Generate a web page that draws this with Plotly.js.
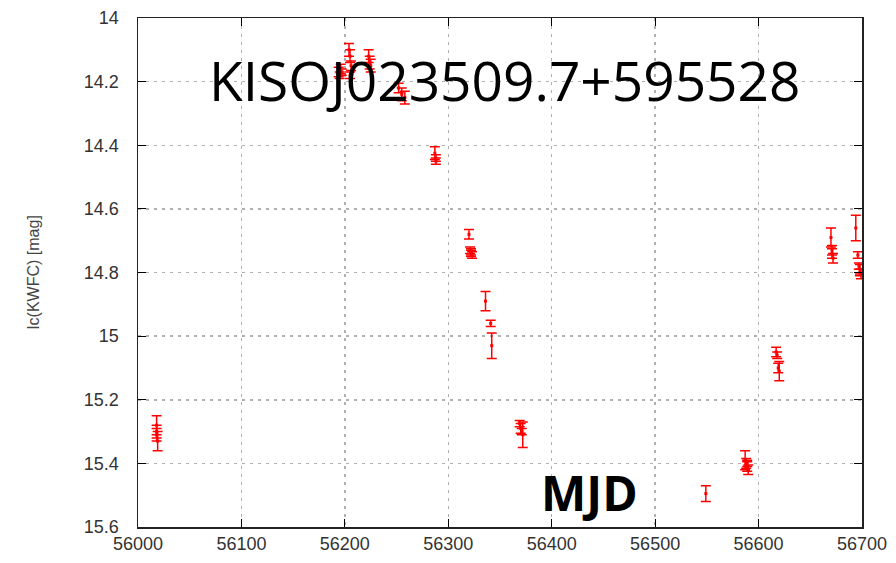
<!DOCTYPE html>
<html>
<head>
<meta charset="utf-8">
<script src="https://cdn.plot.ly/plotly-3.0.1.min.js"></script>
<style>html,body{margin:0;padding:0;background:#fff;}#chart{width:896px;height:563px;}</style>
</head>
<body>
<div id="chart"></div>
<script>
const mjd = [
  56018, 56018, 56018, 56019,
  56194, 56195, 56196, 56197,
  56204, 56205, 56206, 56205,
  56223, 56224, 56225,
  56252, 56255, 56258,
  56287, 56288, 56288,
  56320, 56321, 56322, 56323, 56322,
  56336, 56341, 56342,
  56369, 56370, 56371, 56372,
  56549,
  56587, 56588, 56589, 56590, 56589,
  56617, 56618, 56619, 56620,
  56670, 56671, 56671, 56672,
  56694, 56696, 56697, 56698, 56698, 56699
];
const mag = [
  15.28, 15.30, 15.31, 15.33,
  14.17, 14.18, 14.16, 14.17,
  14.10, 14.12, 14.15, 14.18,
  14.12, 14.14, 14.15,
  14.22, 14.24, 14.25,
  14.425, 14.44, 14.45,
  14.68, 14.73, 14.74, 14.745, 14.735,
  14.89, 14.96, 15.03,
  15.275, 15.29, 15.30, 15.31,
  15.495,
  15.39, 15.40, 15.41, 15.42, 15.40,
  15.05, 15.06, 15.10, 15.11,
  14.69, 14.73, 14.74, 14.755,
  14.66, 14.745, 14.78, 14.79, 14.80, 14.805
];
const magErr = [
  0.03, 0.02, 0.02, 0.03,
  0.015, 0.01, 0.015, 0.01,
  0.02, 0.02, 0.015, 0.01,
  0.02, 0.02, 0.02,
  0.015, 0.02, 0.02,
  0.02, 0.01, 0.01,
  0.015, 0.01, 0.01, 0.01, 0.01,
  0.03, 0.01, 0.04,
  0.01, 0.015, 0.01, 0.04,
  0.025,
  0.03, 0.015, 0.015, 0.015, 0.01,
  0.015, 0.01, 0.015, 0.03,
  0.03, 0.015, 0.015, 0.015,
  0.04, 0.01, 0.01, 0.015, 0.01, 0.015
];
const xTicks = [56000, 56100, 56200, 56300, 56400, 56500, 56600, 56700];
const yTicks = [14, 14.2, 14.4, 14.6, 14.8, 15, 15.2, 15.4, 15.6];
const yTickText = ['14', '14.2', '14.4', '14.6', '14.8', '15', '15.2', '15.4', '15.6'];
const titleText = 'KISOJ023509.7+595528';
const xLabel = 'MJD';
const yLabel = 'Ic(KWFC) [mag]';

const trace = {
  x: mjd, y: mag, type: 'scatter', mode: 'markers',
  marker: {color: '#ff0000', size: 3, symbol: 'square'},
  error_y: {type: 'data', array: magErr, visible: true, color: '#ff0000', thickness: 1.5, width: 5},
  hoverinfo: 'none', showlegend: false
};

const tickFont = {family: 'Liberation Sans, Arial, sans-serif', size: 18, color: '#333'};
const layout = {
  width: 896, height: 563,
  margin: {l: 138, r: 34, t: 18, b: 36},
  paper_bgcolor: '#fff', plot_bgcolor: '#fff',
  xaxis: {
    range: [56000, 56700], tickvals: xTicks, ticktext: xTicks.map(String),
    ticks: 'inside', ticklen: 8, tickcolor: '#000', mirror: 'ticks',
    showline: true, linecolor: '#222', linewidth: 1.5,
    showgrid: true, gridcolor: '#b0b0b0', griddash: '3px,5px', gridwidth: 1.5,
    zeroline: false, tickfont: tickFont
  },
  yaxis: {
    range: [15.6, 14], tickvals: yTicks, ticktext: yTickText,
    ticks: 'inside', ticklen: 8, tickcolor: '#000', mirror: 'ticks',
    showline: true, linecolor: '#222', linewidth: 1.5,
    showgrid: true, gridcolor: '#b0b0b0', griddash: '3px,5px', gridwidth: 1.5,
    zeroline: false, tickfont: tickFont, ticklabelstandoff: 14,
    title: {text: yLabel, font: {family: 'Liberation Sans, Arial, sans-serif', size: 16, color: '#444'}, standoff: 40}
  },
  annotations: [
    {text: titleText, xref: 'paper', yref: 'paper', x: 0.506, y: 0.88, xanchor: 'center', yanchor: 'middle',
     showarrow: false, font: {family: 'Open Sans, Noto Sans, sans-serif', size: 55, color: '#000'}},
    {text: '<b>' + xLabel + '</b>', xref: 'paper', yref: 'paper', x: 0.623, y: 0.067, xanchor: 'center', yanchor: 'middle',
     showarrow: false, font: {family: 'Open Sans, Noto Sans, sans-serif', size: 48, color: '#000'}}
  ]
};
Plotly.newPlot('chart', [trace], layout, {displayModeBar: false, staticPlot: true});
</script>
</body>
</html>
